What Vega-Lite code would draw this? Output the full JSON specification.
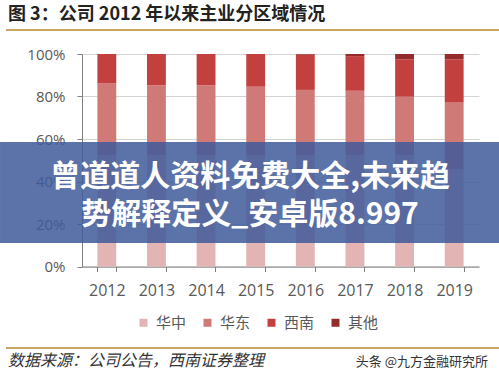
{
  "$schema": "https://vega.github.io/schema/vega-lite/v6.json",
  "width": 397,
  "height": 212.5,
  "autosize": {"type": "none"},
  "padding": {"left": 82, "top": 54, "right": 20, "bottom": 120.5},
  "background": "white",
  "config": {"view": {"stroke": null}, "font": "Noto Sans CJK SC"},
  "layer": [
    {
      "data": {
        "values": [
          {"year": "2012", "region": "华中", "ord": 1, "share": 52.5},
          {"year": "2012", "region": "华东", "ord": 2, "share": 33.7},
          {"year": "2012", "region": "西南", "ord": 3, "share": 13.8},
          {"year": "2012", "region": "其他", "ord": 4, "share": 0},
          {"year": "2013", "region": "华中", "ord": 1, "share": 52.5},
          {"year": "2013", "region": "华东", "ord": 2, "share": 32.8},
          {"year": "2013", "region": "西南", "ord": 3, "share": 14.7},
          {"year": "2013", "region": "其他", "ord": 4, "share": 0},
          {"year": "2014", "region": "华中", "ord": 1, "share": 52.5},
          {"year": "2014", "region": "华东", "ord": 2, "share": 32.8},
          {"year": "2014", "region": "西南", "ord": 3, "share": 14.7},
          {"year": "2014", "region": "其他", "ord": 4, "share": 0},
          {"year": "2015", "region": "华中", "ord": 1, "share": 52.5},
          {"year": "2015", "region": "华东", "ord": 2, "share": 32.1},
          {"year": "2015", "region": "西南", "ord": 3, "share": 15.4},
          {"year": "2015", "region": "其他", "ord": 4, "share": 0},
          {"year": "2016", "region": "华中", "ord": 1, "share": 52.5},
          {"year": "2016", "region": "华东", "ord": 2, "share": 30.6},
          {"year": "2016", "region": "西南", "ord": 3, "share": 16.6},
          {"year": "2016", "region": "其他", "ord": 4, "share": 0.3},
          {"year": "2017", "region": "华中", "ord": 1, "share": 52.5},
          {"year": "2017", "region": "华东", "ord": 2, "share": 30.2},
          {"year": "2017", "region": "西南", "ord": 3, "share": 16.3},
          {"year": "2017", "region": "其他", "ord": 4, "share": 1.0},
          {"year": "2018", "region": "华中", "ord": 1, "share": 52.5},
          {"year": "2018", "region": "华东", "ord": 2, "share": 27.4},
          {"year": "2018", "region": "西南", "ord": 3, "share": 17.6},
          {"year": "2018", "region": "其他", "ord": 4, "share": 2.5},
          {"year": "2019", "region": "华中", "ord": 1, "share": 45.9},
          {"year": "2019", "region": "华东", "ord": 2, "share": 31.2},
          {"year": "2019", "region": "西南", "ord": 3, "share": 20.4},
          {"year": "2019", "region": "其他", "ord": 4, "share": 2.5}
        ]
      },
      "mark": {"type": "bar"},
      "encoding": {
        "x": {
          "field": "year", "type": "ordinal",
          "scale": {"paddingInner": 0.62, "paddingOuter": 0.31},
          "axis": {
            "title": null, "labelAngle": 0, "tickBand": "extent", "grid": false,
            "domainColor": "#7f7f7f", "tickColor": "#7f7f7f", "tickSize": 5,
            "labelFont": "Open Sans", "labelFontSize": 16, "labelColor": "#595959", "labelPadding": 11
          }
        },
        "y": {
          "field": "share", "type": "quantitative", "stack": "normalize",
          "scale": {"domain": [0, 1]},
          "axis": {
            "title": null, "format": ".0%", "values": [0, 0.2, 0.4, 0.6, 0.8, 1],
            "gridColor": "#d4d4d4", "domainColor": "#7f7f7f", "tickColor": "#7f7f7f", "tickSize": 5,
            "labelFont": "Open Sans", "labelFontSize": 15, "labelColor": "#595959", "labelPadding": 12
          }
        },
        "color": {
          "field": "region", "type": "nominal",
          "scale": {"domain": ["华中", "华东", "西南", "其他"], "range": ["#e3b4b4", "#d07a78", "#c2413e", "#952c2c"]},
          "legend": {
            "title": null, "orient": "none", "direction": "horizontal", "legendX": 54, "legendY": 261,
            "symbolType": "square", "symbolSize": 64, "symbolStrokeWidth": 0, "symbolOpacity": 1,
            "labelFontSize": 15, "labelColor": "#595959", "labelOffset": 5, "columnPadding": 13
          }
        },
        "order": {"field": "ord", "type": "quantitative"}
      }
    },
    {
      "data": {"values": [{}]},
      "mark": {"type": "rect", "color": "#3f5a9a", "opacity": 0.85},
      "encoding": {
        "x": {"datum": -0.2065, "type": "quantitative", "scale": {"domain": [0, 1]}, "axis": null},
        "x2": {"datum": 1.0504},
        "y": {"datum": 0.5859, "type": "quantitative", "scale": {"domain": [0, 1]}, "axis": null},
        "y2": {"datum": 0.1106}
      }
    },
    {
      "data": {"values": [{}]},
      "mark": {"type": "text", "text": "曾道道人资料免费大全,未来趋", "color": "white", "fontSize": 30, "fontWeight": "bold", "align": "center", "baseline": "middle"},
      "encoding": {
        "x": {"datum": 0.4232, "type": "quantitative", "scale": {"domain": [0, 1]}, "axis": null},
        "y": {"datum": 0.4212, "type": "quantitative", "scale": {"domain": [0, 1]}, "axis": null}
      }
    },
    {
      "data": {"values": [{}]},
      "mark": {"type": "text", "text": "势解释定义_安卓版8.997", "color": "white", "fontSize": 30, "fontWeight": "bold", "align": "center", "baseline": "middle"},
      "encoding": {
        "x": {"datum": 0.4232, "type": "quantitative", "scale": {"domain": [0, 1]}, "axis": null},
        "y": {"datum": 0.2424, "type": "quantitative", "scale": {"domain": [0, 1]}, "axis": null}
      }
    },
    {
      "data": {"values": [{}]},
      "mark": {"type": "text", "text": "图 3：公司 2012 年以来主业分区域情况", "color": "#222222", "fontSize": 18, "fontWeight": "bold", "align": "left", "baseline": "middle"},
      "encoding": {
        "x": {"datum": -0.1864, "type": "quantitative", "scale": {"domain": [0, 1]}, "axis": null},
        "y": {"datum": 1.1835, "type": "quantitative", "scale": {"domain": [0, 1]}, "axis": null}
      }
    },
    {
      "data": {"values": [{}]},
      "mark": {"type": "rule", "color": "#c9a464", "strokeWidth": 2},
      "encoding": {
        "x": {"datum": -0.1914, "type": "quantitative", "scale": {"domain": [0, 1]}, "axis": null},
        "x2": {"datum": 1.0504},
        "y": {"datum": 1.1129, "type": "quantitative", "scale": {"domain": [0, 1]}, "axis": null}
      }
    },
    {
      "data": {"values": [{}]},
      "mark": {"type": "rule", "color": "#c9a464", "strokeWidth": 2},
      "encoding": {
        "x": {"datum": -0.1914, "type": "quantitative", "scale": {"domain": [0, 1]}, "axis": null},
        "x2": {"datum": 1.0504},
        "y": {"datum": -0.3835, "type": "quantitative", "scale": {"domain": [0, 1]}, "axis": null}
      }
    },
    {
      "data": {"values": [{}]},
      "mark": {"type": "text", "text": "数据来源：公司公告，西南证券整理", "color": "#333333", "fontSize": 16, "fontStyle": "italic", "align": "left", "baseline": "middle"},
      "encoding": {
        "x": {"datum": -0.1864, "type": "quantitative", "scale": {"domain": [0, 1]}, "axis": null},
        "y": {"datum": -0.4447, "type": "quantitative", "scale": {"domain": [0, 1]}, "axis": null}
      }
    },
    {
      "data": {"values": [{}]},
      "mark": {"type": "text", "text": "头条 @九方金融研究所", "color": "#333333", "fontSize": 13, "align": "right", "baseline": "middle"},
      "encoding": {
        "x": {"datum": 1.0227, "type": "quantitative", "scale": {"domain": [0, 1]}, "axis": null},
        "y": {"datum": -0.449, "type": "quantitative", "scale": {"domain": [0, 1]}, "axis": null}
      }
    }
  ],
  "resolve": {"scale": {"x": "independent", "y": "independent"}, "axis": {"x": "independent", "y": "independent"}}
}
